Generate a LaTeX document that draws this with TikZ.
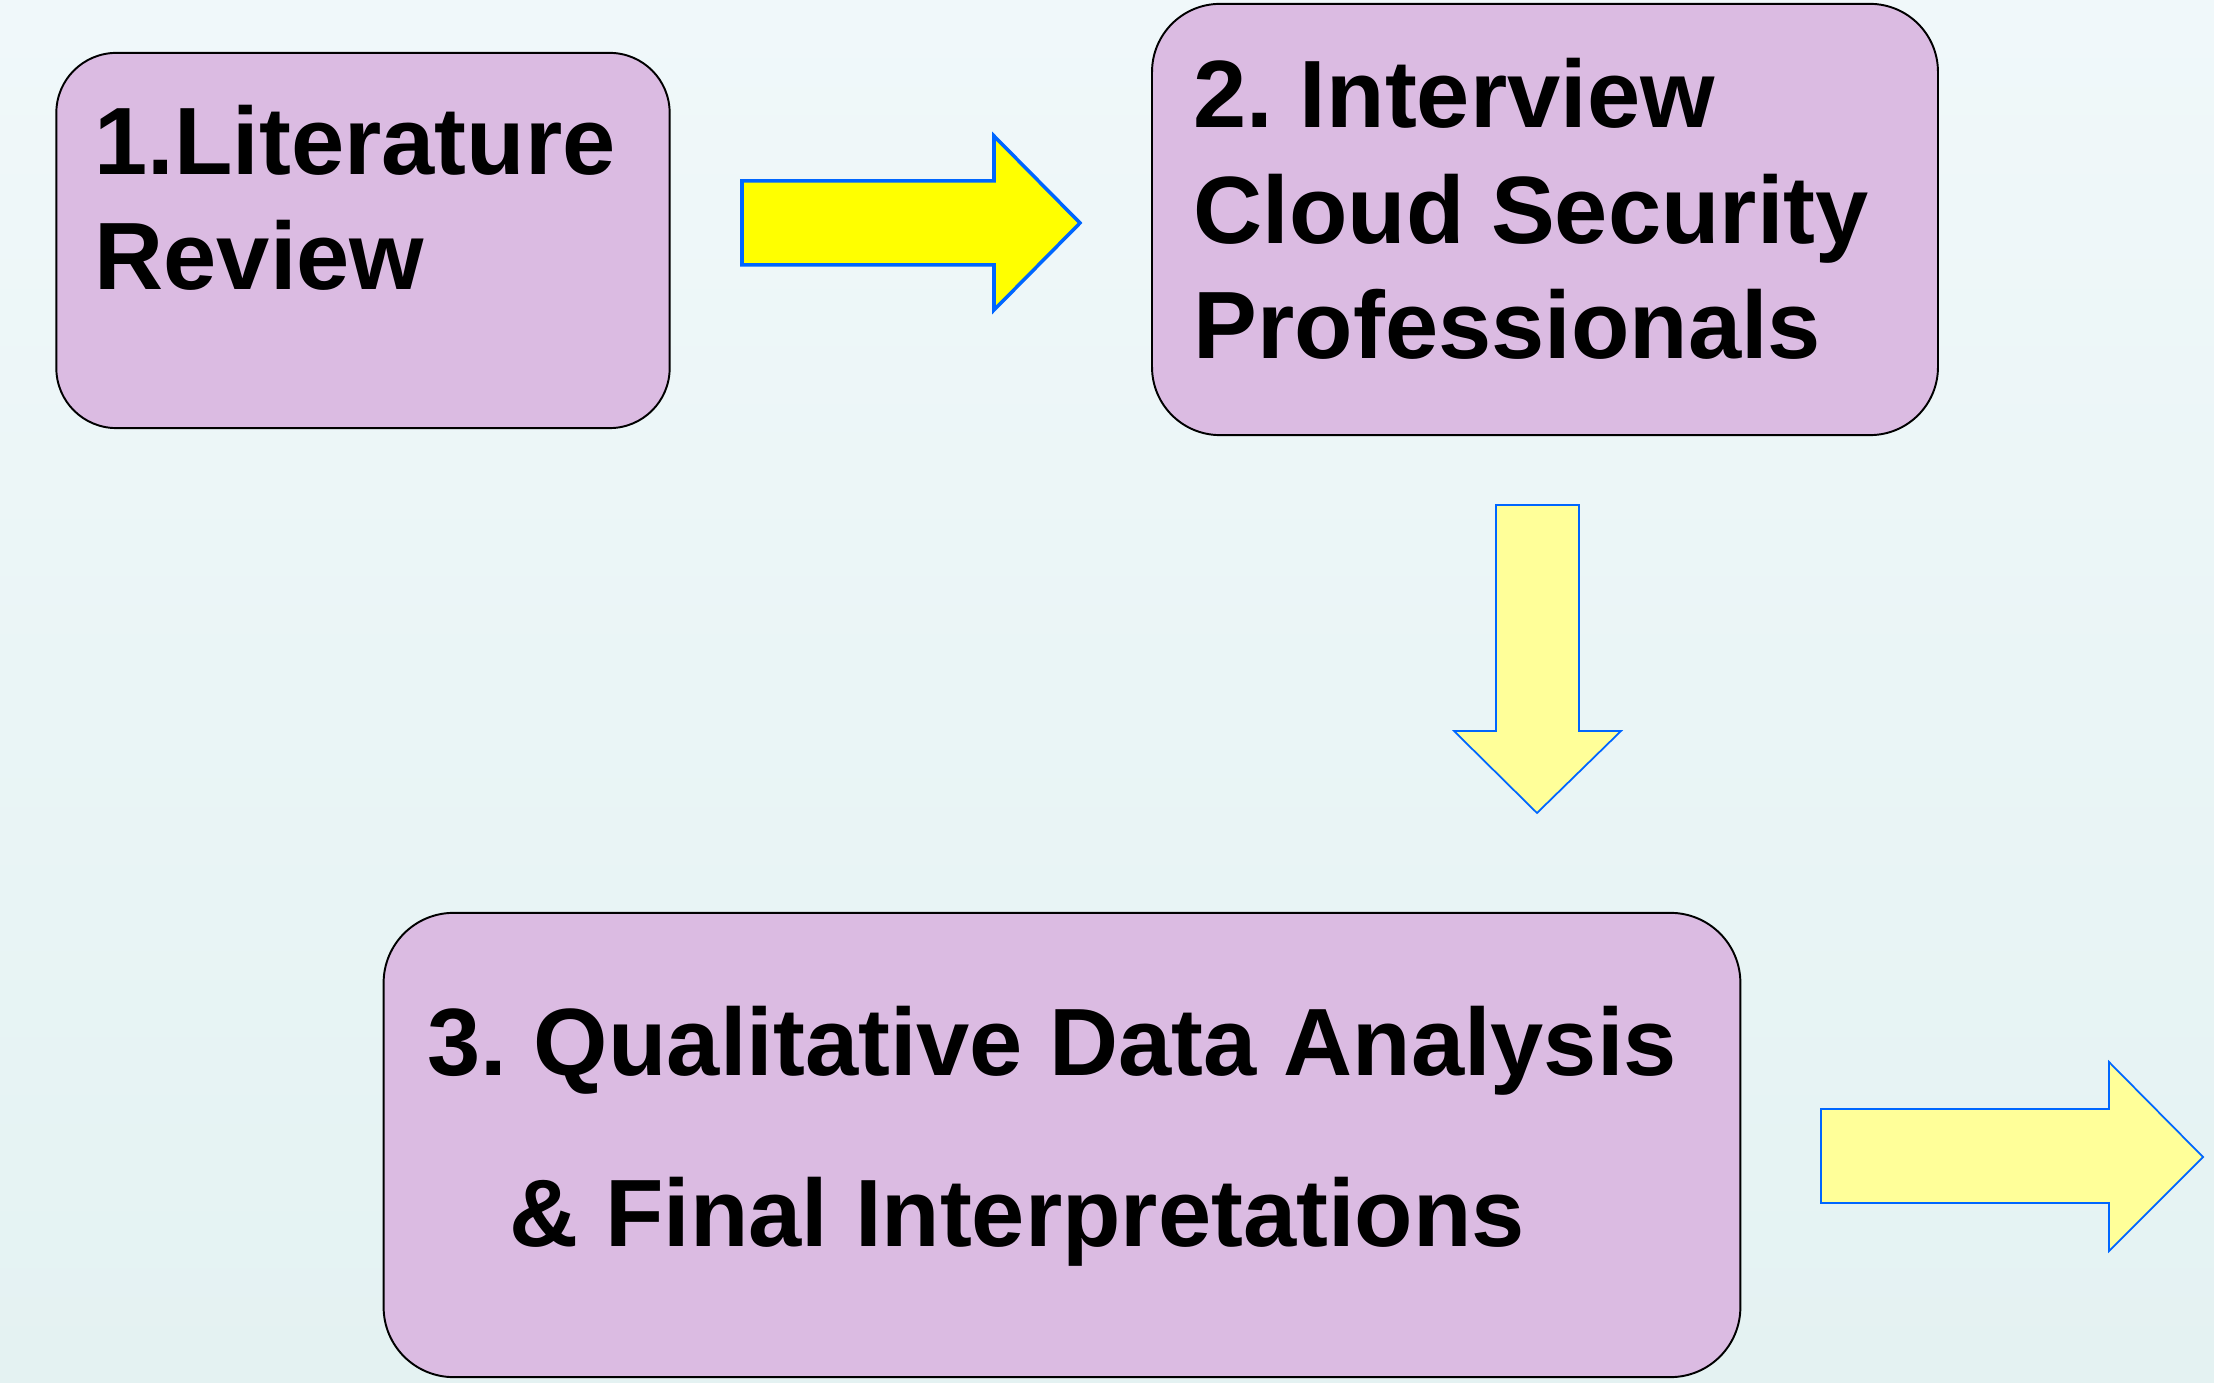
\documentclass[tikz,border=0pt]{standalone}
\usepackage{fontspec}
\setmainfont{Liberation Sans}
\frenchspacing
\definecolor{bgtop}{RGB}{240,248,250}
\definecolor{bgbot}{RGB}{228,242,242}
\definecolor{boxfill}{RGB}{219,187,226}
\definecolor{arrblue}{RGB}{0,102,255}
\definecolor{ybright}{RGB}{255,255,0}
\definecolor{ypale}{RGB}{255,255,153}
\begin{document}
\begin{tikzpicture}[x=0.01cm,y=-0.01cm,
  stepbox/.style={draw=black, line width=0.55pt, fill=boxfill, inner sep=0pt},
  lbl/.style={font=\fontsize{27.2}{33}\selectfont\bfseries, inner sep=0pt, anchor=base west, text=black},
  blockarrowA/.style={draw=arrblue, line width=1pt, fill=ybright, line join=miter},
  blockarrowB/.style={draw=arrblue, line width=0.5pt, fill=ypale, line join=miter}]
\useasboundingbox (0,0) rectangle (2214,1383);
\shade[top color=bgtop, bottom color=bgbot] (0,0) rectangle (2214,1383);

% boxes
\node[stepbox, minimum width=6.13cm, minimum height=3.75cm, rounded corners=0.6cm] (b1) at (363,240.5) {};
\node[stepbox, minimum width=7.855cm, minimum height=4.31cm, rounded corners=0.68cm] (b2) at (1545,219.5) {};
\node[stepbox, minimum width=13.56cm, minimum height=4.64cm, rounded corners=0.7cm] (b3) at (1062,1145) {};

% texts
\node[lbl] (t1a) at (94,175) {1.Literature};
\node[lbl] (t1b) at (94,290) {Review};
\node[lbl] (t2a) at (1193,128) {2. Interview};
\node[lbl] (t2b) at (1193,244) {Cloud Security};
\node[lbl] (t2c) at (1193,359) {Professionals};
\node[lbl] (t3a) at (427,1076) {3. Qualitative Data Analysis};
\node[lbl] (t3b) at (509,1247) {\& Final Interpretations};

% block arrows
\draw[blockarrowA] (742,181) -- (994,181) -- (994,136) -- (1080,223) -- (994,310) -- (994,265) -- (742,265) -- cycle;
\draw[blockarrowB] (1496,505) -- (1579,505) -- (1579,731) -- (1621,731) -- (1537,813) -- (1454,731) -- (1496,731) -- cycle;
\draw[blockarrowB] (1821,1109) -- (2109,1109) -- (2109,1062) -- (2203,1157) -- (2109,1251) -- (2109,1203) -- (1821,1203) -- cycle;
\end{tikzpicture}
\end{document}
